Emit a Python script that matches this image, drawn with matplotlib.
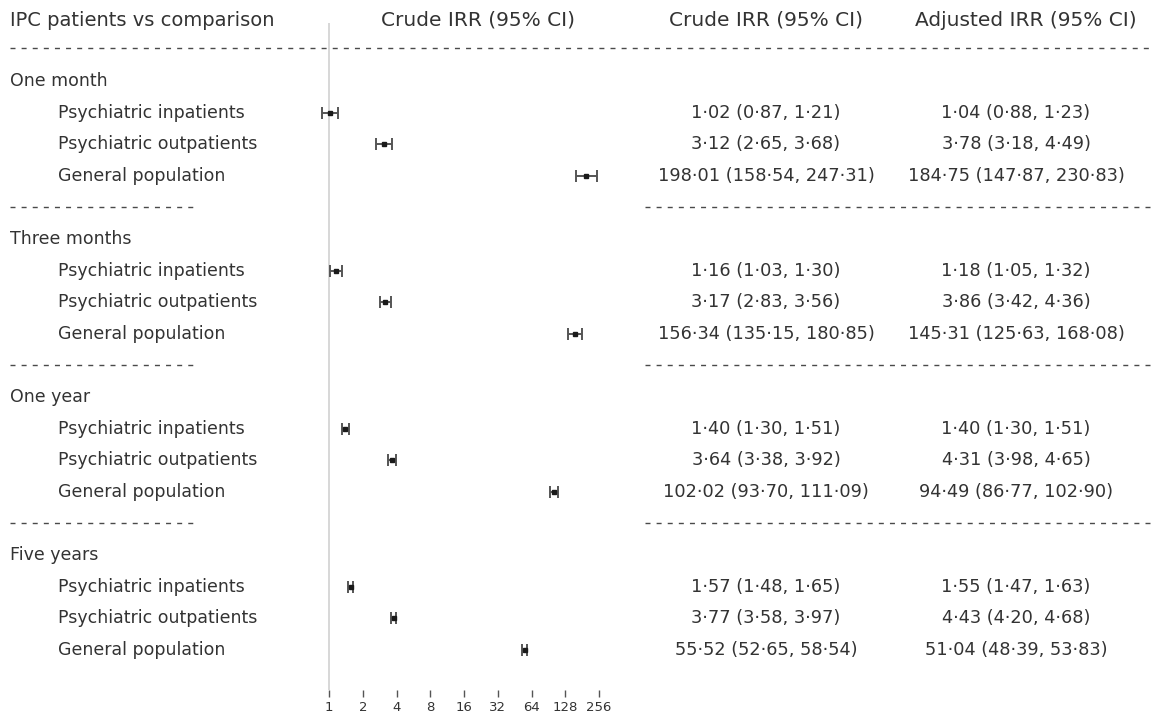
import matplotlib.pyplot as plt
import numpy as np

# IRR of suicide, IPC patients vs comparison groups, by follow-up period
periods = ["One month", "Three months", "One year", "Five years"]
comparisons = ["Psychiatric inpatients", "Psychiatric outpatients", "General population"]

crude_irr = [1.02, 3.12, 198.01, 1.16, 3.17, 156.34, 1.40, 3.64, 102.02, 1.57, 3.77, 55.52]
crude_lo = [0.87, 2.65, 158.54, 1.03, 2.83, 135.15, 1.30, 3.38, 93.70, 1.48, 3.58, 52.65]
crude_hi = [1.21, 3.68, 247.31, 1.30, 3.56, 180.85, 1.51, 3.92, 111.09, 1.65, 3.97, 58.54]

adj_irr = [1.04, 3.78, 184.75, 1.18, 3.86, 145.31, 1.40, 4.31, 94.49, 1.55, 4.43, 51.04]
adj_lo = [0.88, 3.18, 147.87, 1.05, 3.42, 125.63, 1.30, 3.98, 86.77, 1.47, 4.20, 48.39]
adj_hi = [1.23, 4.49, 230.83, 1.32, 4.36, 168.08, 1.51, 4.65, 102.90, 1.63, 4.68, 53.83]

x_ticks = [1, 2, 4, 8, 16, 32, 64, 128, 256]

W, H = 1163, 714
TXT = "#333333"
LINE = "#4a4a4a"
FS_TITLE = 14
FS_HEAD = 14.5
FS_LABEL = 12.5
FS_VAL = 12.8


def fmt(v):
    return f"{v:.2f}".replace(".", "\u00b7")


def ci_text(e, lo, hi):
    return f"{fmt(e)} ({fmt(lo)}, {fmt(hi)})"


plt.rcParams["font.family"] = ["DejaVu Sans"]

fig = plt.figure(figsize=(W / 100, H / 100), dpi=100)

# background axes in pixel units for the table text and separators
tab = fig.add_axes([0, 0, 1, 1])
tab.set_xlim(0, W)
tab.set_ylim(H, 0)
tab.axis("off")

# forest plot axes, log2 x scale, same vertical pixel units
fx0, fx1 = 310, 620
forest = fig.add_axes([fx0 / W, 24 / H, (fx1 - fx0) / W, 690 / H])
forest.set_xscale("log", base=2)
px_per_dbl = 33.75
forest.set_xlim(2 ** ((fx0 - 329) / px_per_dbl), 2 ** ((fx1 - 329) / px_per_dbl))
forest.set_ylim(690, 0)
for s in forest.spines.values():
    s.set_visible(False)
forest.set_yticks([])
forest.set_xticks(x_ticks)
forest.set_xticklabels([str(t) for t in x_ticks])
forest.minorticks_off()
forest.tick_params(axis="x", length=5, width=1, color="#555555",
                   labelsize=9.5, labelcolor=TXT, pad=3)
forest.patch.set_alpha(0)

forest.vlines(1, 23, 690, color="#d4d4d4", lw=1.3, zorder=0)

dash = (0, (3.6, 4.4))

col2_x, col3_x = 766, 1016

# header
tab.text(10, 20, "IPC patients vs comparison", fontsize=FS_TITLE, color=TXT, va="center")
tab.text(478, 20, "Crude IRR (95% CI)", fontsize=FS_HEAD, color=TXT, va="center", ha="center")
tab.text(col2_x, 20, "Crude IRR (95% CI)", fontsize=FS_HEAD, color=TXT, va="center", ha="center")
tab.text(1026, 20, "Adjusted IRR (95% CI)", fontsize=FS_HEAD, color=TXT, va="center", ha="center")
tab.plot([10, 1154], [48, 48], color=LINE, lw=1.0, linestyle=dash)

step = 31.6
top = 81
rows_y = []
for g, period in enumerate(periods):
    y0 = top + g * 5 * step
    tab.text(10, y0, period, fontsize=FS_LABEL, color=TXT, va="center")
    for k, comp in enumerate(comparisons):
        i = g * 3 + k
        y = y0 + (k + 1) * step
        rows_y.append(y)
        tab.text(58, y, comp, fontsize=FS_LABEL, color=TXT, va="center")
        tab.text(col2_x, y, ci_text(crude_irr[i], crude_lo[i], crude_hi[i]),
                 fontsize=FS_VAL, color=TXT, va="center", ha="center")
        tab.text(col3_x, y, ci_text(adj_irr[i], adj_lo[i], adj_hi[i]),
                 fontsize=FS_VAL, color=TXT, va="center", ha="center")
    if g < len(periods) - 1:
        yd = y0 + 4 * step
        tab.plot([10, 197], [yd, yd], color=LINE, lw=1.0, linestyle=dash)
        tab.plot([645, 1154], [yd, yd], color=LINE, lw=1.0, linestyle=dash)

est = np.array(crude_irr)
err = np.vstack([est - np.array(crude_lo), np.array(crude_hi) - est])
forest.errorbar(est, rows_y, xerr=err, fmt="s", color="#1a1a1a", ms=3.5,
                ecolor="#555555", elinewidth=1.4, capsize=4.6, capthick=1.4)

fig.savefig("out.png", dpi=100)
